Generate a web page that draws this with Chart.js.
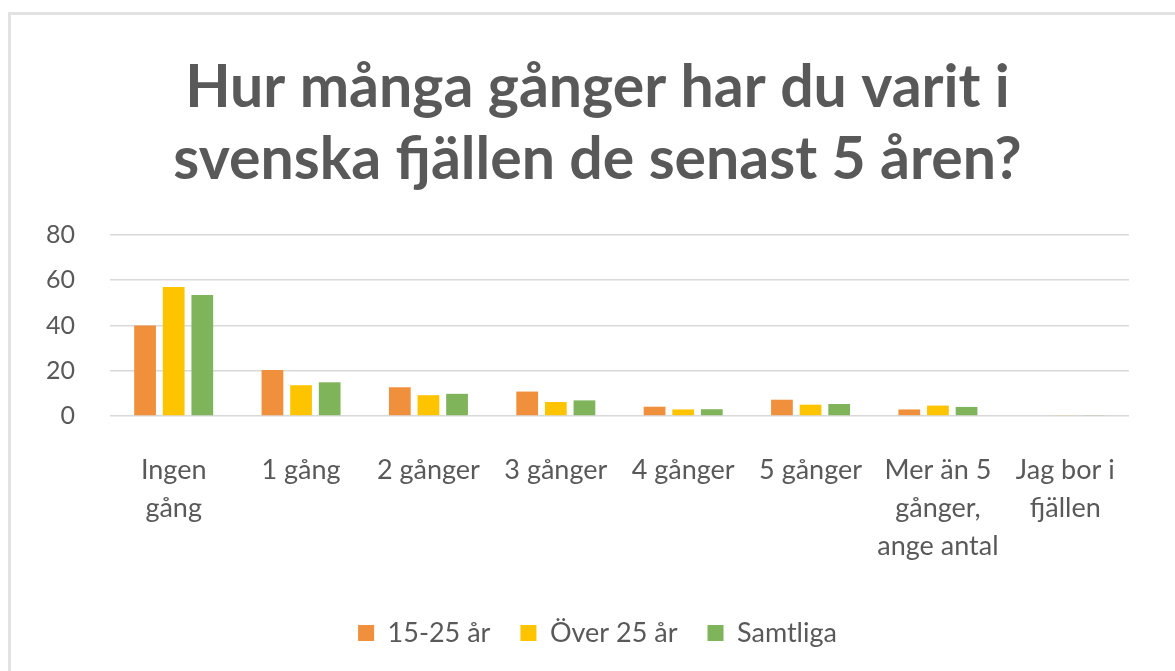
<!DOCTYPE html>
<html>
<head>
<meta charset="utf-8">
<script src="https://cdn.jsdelivr.net/npm/chart.js@4/dist/chart.umd.min.js"></script>
<style>
  html, body { margin: 0; padding: 0; background: #ffffff; }
  #frame { position: absolute; left: 8px; top: 12px; width: 1200px; height: 700px;
           border-left: 3px solid #e2e2e2; border-top: 3px solid #e2e2e2; }
  #wrap { position: absolute; left: 0; top: 0; width: 1175px; height: 671px; }
</style>
</head>
<body>
<div id="frame"></div>
<div id="wrap"><canvas id="c" width="1175" height="671"></canvas></div>
<script>
const titleLines = ["Hur många gånger har du varit i", "svenska fjällen de senast 5 åren?"];
const categories = [
  ["Ingen", "gång"],
  "1 gång",
  "2 gånger",
  "3 gånger",
  "4 gånger",
  "5 gånger",
  ["Mer än 5", "gånger,", "ange antal"],
  ["Jag bor i", "fjällen"]
];
const seriesNames = ["15-25 år", "Över 25 år", "Samtliga"];
const young = [40, 20.3, 12.7, 10.8, 4.1, 7.2, 2.9, 0];
const older = [57, 13.6, 9.2, 6.2, 2.9, 5.0, 4.6, 0.4];
const all = [53.5, 14.9, 9.8, 6.9, 3.0, 5.3, 4.0, 0.3];
const yTicks = [0, 20, 40, 60, 80];

const colors = ["#F0903C", "#FFC400", "#80B45A"];
const textColor = "#595959";
const FONT = "Lato, 'Open Sans', sans-serif";

new Chart(document.getElementById("c"), {
  type: "bar",
  data: {
    labels: categories,
    datasets: [
      { label: seriesNames[0], data: young, backgroundColor: colors[0] },
      { label: seriesNames[1], data: older, backgroundColor: colors[1] },
      { label: seriesNames[2], data: all, backgroundColor: colors[2] }
    ]
  },
  options: {
    responsive: false,
    animation: false,
    devicePixelRatio: 1,
    datasets: { bar: { categoryPercentage: 0.674, barPercentage: 0.76 } },
    layout: { padding: { left: 66, right: 46, top: 20, bottom: 14.5 } },
    plugins: {
      tooltip: { enabled: false },
      title: {
        display: true,
        text: titleLines,
        color: textColor,
        font: { family: FONT, size: 59, weight: "bold", lineHeight: 1.22 },
        padding: { top: 32, bottom: 39 }
      },
      legend: {
        position: "bottom",
        labels: {
          color: textColor,
          font: { family: FONT, size: 27 },
          boxWidth: 16,
          boxHeight: 16,
          padding: 30
        }
      }
    },
    scales: {
      x: {
        grid: { display: false, drawTicks: false },
        border: { display: false },
        ticks: {
          color: textColor,
          font: { family: FONT, size: 27, lineHeight: 1.39 },
          maxRotation: 0,
          autoSkip: false,
          padding: 36
        },
        afterFit: function (s) { s.height = 173.5; }
      },
      y: {
        min: 0,
        max: 80,
        afterBuildTicks: function (s) { s.ticks = yTicks.map(v => ({ value: v })); },
        grid: { color: "#d9d9d9", lineWidth: 1.6, drawTicks: false },
        border: { display: false },
        ticks: {
          color: textColor,
          font: { family: FONT, size: 25 },
          mirror: true,
          crossAlign: "far",
          padding: -64
        },
        afterFit: function (s) { s.width = 44; }
      }
    }
  }
});
</script>
</body>
</html>
